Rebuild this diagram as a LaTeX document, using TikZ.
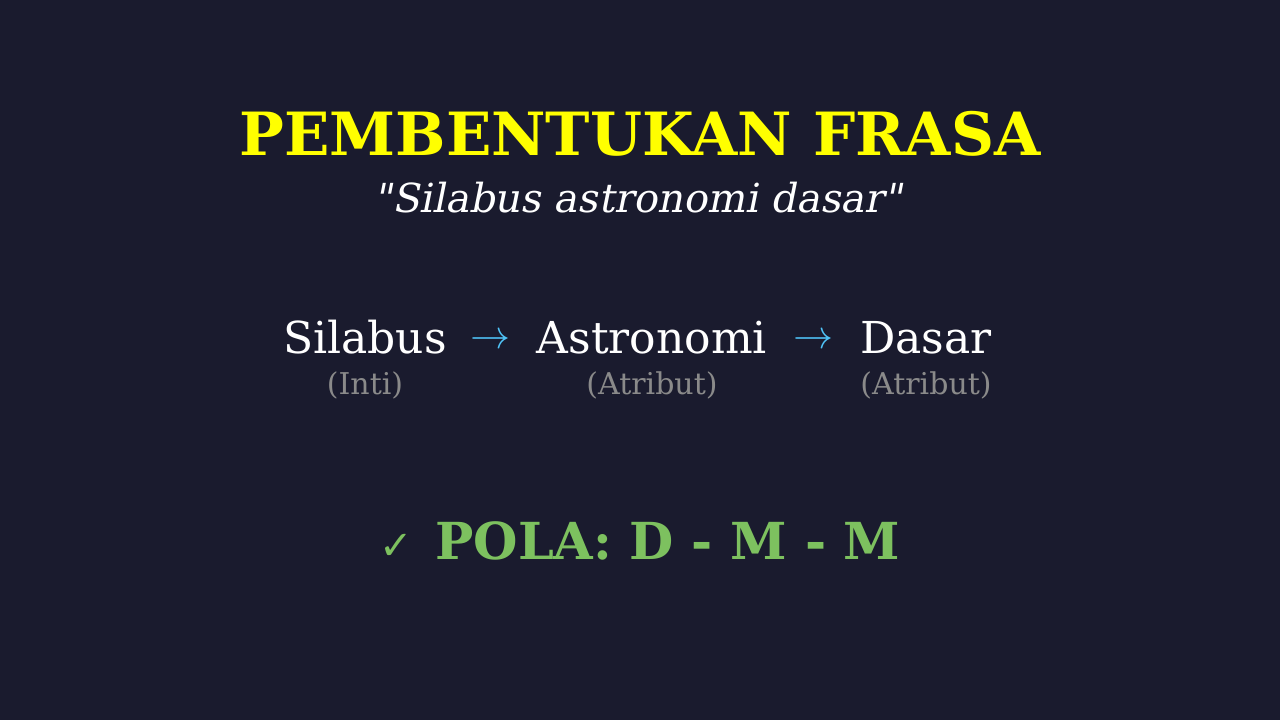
\RequirePackage{fix-cm}
\documentclass[tikz,border=0pt]{standalone}
\usepackage{fontspec}
\setmainfont{DejaVu Serif}[Ligatures=TeXOff]
\newfontfamily\slfont{DejaVu Serif}[FakeSlant=0.2,Ligatures=TeXOff]
\newfontfamily\symfont{DejaVu Sans}
\definecolor{bg}{HTML}{1A1B2E}
\definecolor{ttl}{HTML}{FFFF00}
\definecolor{arr}{HTML}{4FC3F7}
\definecolor{lbl}{HTML}{8A8A8A}
\definecolor{grn}{HTML}{7DC15F}
\begin{document}
\begin{tikzpicture}[x=1pt,y=1pt,
  every node/.style={inner sep=0pt,outer sep=0pt,anchor=base},
  word/.style={text=white,font=\fontsize{44}{44}\selectfont},
  arrow/.style={text=arr,font=\fontsize{40}{40}\selectfont},
  role/.style={text=lbl,font=\fontsize{30}{30}\selectfont}]
\fill[bg] (0,0) rectangle (1280,720);
\useasboundingbox (0,0) rectangle (1280,720);
\node[text=ttl,font=\fontsize{59.6}{60}\selectfont\bfseries] (title) at (640,564) {PEMBENTUKAN FRASA};
\node[text=white,font=\fontsize{40}{40}\slfont] (sub) at (638,507) {"Silabus astronomi dasar"};
\node[word] (s) at (365,366) {Silabus};
\node[arrow] (a1) at (490,371) {$\rightarrow$};
\node[word] (a) at (652,366) {Astronomi};
\node[arrow] (a2) at (813,371) {$\rightarrow$};
\node[word] (d) at (926,366) {Dasar};
\node[role] (rs) at (365,325) {(Inti)};
\node[role] (ra) at (652,325) {(Atribut)};
\node[role] (rd) at (926,325) {(Atribut)};
\node[text=grn,font=\fontsize{51}{51}\selectfont] (pola) at (640,160) {{\symfont\fontsize{40}{40}\selectfont ✓}\hspace{6pt} \bfseries POLA: D - M - M};
\end{tikzpicture}
\end{document}
